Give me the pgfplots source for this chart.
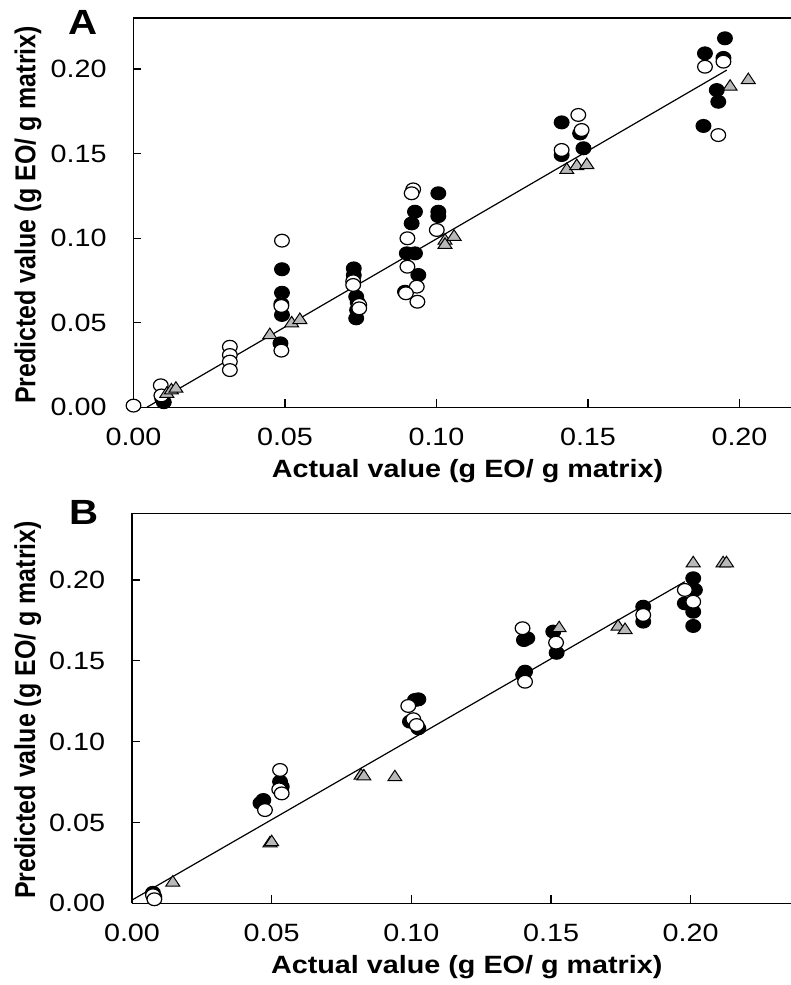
\documentclass[border=0pt]{standalone}
\usepackage{fontspec}
\setmainfont{Liberation Sans}[FakeStretch=1.15]
\newfontfamily\ylabfont{Liberation Sans}
\usepackage{pgfplots}
\pgfplotsset{compat=1.18}
\pgfplotsset{
 myaxis/.style={
  scale only axis, clip=false,
  axis lines*=left,
  axis line style={-, line width=0.8pt, black},
  tick align=inside,
  major tick length=4pt,
  tick style={black, line width=0.6pt},
  xtick={0,0.05,0.1,0.15,0.2}, ytick={0,0.05,0.1,0.15,0.2},
  scaled ticks=false,
  xticklabel={\pgfmathprintnumber[fixed,fixed zerofill,precision=2,assume math mode=true]{\tick}},
  yticklabel={\pgfmathprintnumber[fixed,fixed zerofill,precision=2,assume math mode=true]{\tick}},
  tick label style={font=\fontsize{12.5}{15}\selectfont, inner sep=0pt},
  xticklabel style={anchor=center, yshift=-15pt},
  yticklabel style={anchor=east, xshift=-13.25pt},
  xmin=0, ymin=0,
  xlabel={Actual value (g EO/ g matrix)},
  ylabel={\scalebox{1}[1.15]{\ylabfont\bfseries Predicted value (g EO/ g matrix)}},
  label style={font=\fontsize{12.5}{15}\selectfont\bfseries},
 },
 blk/.style={only marks, mark=*, mark size=3.2pt, mark options={fill=black, draw=black, line width=0.6pt, xscale=1.15}},
 opn/.style={only marks, mark=*, mark size=3.2pt, mark options={fill=white, draw=black, line width=0.6pt, xscale=1.15}},
 tri/.style={only marks, mark=triangle*, mark size=3.5pt, mark options={fill=gray!55, draw=black, line width=0.5pt, xscale=1.15}},
}
\begin{document}
\begin{tikzpicture}
% ---------------- Panel A ----------------
\begin{axis}[myaxis, at={(66.75pt,-203.65pt)}, anchor=south west,
  width=328.75pt, height=194.65pt, xmax=0.2170, ymax=0.2301,
  xlabel style={at={(axis description cs:0.508,-0.165)}, anchor=center},
  ylabel style={at={(axis description cs:-0.1605,0.494)}, anchor=center}]
\draw[line width=0.8pt] (rel axis cs:0,1) -- (rel axis cs:1,1);
\addplot[black, line width=0.6pt, mark=none] coordinates {(0.0044,0) (0.1958,0.1993)};
\addplot[blk] coordinates {
(0.0095,0.005) (0.010,0.003)
(0.049,0.0816) (0.049,0.0677) (0.0488,0.0611) (0.049,0.0546) (0.0485,0.0378)
(0.0727,0.0821) (0.0727,0.0780) (0.0735,0.0654) (0.074,0.0620) (0.0738,0.0575) (0.0735,0.0526)
(0.0929,0.1156) (0.0918,0.1087) (0.0902,0.0910) (0.0929,0.0910) (0.094,0.0782) (0.0896,0.0683)
(0.1006,0.1265) (0.1006,0.1156) (0.1006,0.1130)
(0.1413,0.1684) (0.1474,0.1619) (0.1485,0.1531) (0.1413,0.1491)
(0.1952,0.2181) (0.1886,0.2092) (0.1947,0.2065) (0.1925,0.1875) (0.193,0.1806) (0.1881,0.1663)
};
\addplot[opn] coordinates {
(0.0,0.001) (0.009,0.013) (0.0092,0.007)
(0.0318,0.0358) (0.0318,0.0309) (0.0318,0.027) (0.0318,0.022)
(0.049,0.0985) (0.0488,0.0599) (0.0488,0.0335)
(0.0725,0.0745) (0.0725,0.0723) (0.0745,0.0605) (0.0745,0.0585)
(0.0923,0.1288) (0.0918,0.1265) (0.0904,0.0999) (0.0904,0.0831) (0.0935,0.0713) (0.0899,0.0674) (0.0937,0.0624)
(0.1001,0.1048)
(0.1468,0.1728) (0.1479,0.1639) (0.1413,0.1521)
(0.1886,0.2013) (0.1947,0.2043) (0.193,0.1609)
};
\addplot[tri] coordinates {
(0.011,0.008) (0.0125,0.010) (0.014,0.011)
(0.045,0.0427) (0.0522,0.0496) (0.0549,0.0516)
(0.1028,0.0985) (0.1028,0.0960) (0.1058,0.1008)
(0.143,0.1403) (0.1463,0.1426) (0.1496,0.1432)
(0.1969,0.1895) (0.2029,0.1934)
};
\end{axis}
% ---------------- Panel B ----------------
\begin{axis}[myaxis, at={(66pt,-451.65pt)}, anchor=south west,
  width=329.5pt, height=195pt, xmax=0.2359, ymax=0.2413,
  xlabel style={at={(axis description cs:0.508,-0.163)}, anchor=center},
  ylabel style={at={(axis description cs:-0.158,0.496)}, anchor=center}]
\draw[line width=0.8pt] (rel axis cs:0,1) -- (rel axis cs:1,1);
\addplot[black, line width=0.6pt, mark=none] coordinates {(0,0.002) (0.1979,0.199)};
\addplot[blk] coordinates {
(0.0075,0.0065) (0.008,0.004)
(0.047,0.0639) (0.046,0.062) (0.053,0.0753) (0.0536,0.0722)
(0.1013,0.1258) (0.1025,0.1262) (0.0995,0.1124) (0.1025,0.1083)
(0.1403,0.1629) (0.1415,0.164) (0.1407,0.1433) (0.14,0.1413)
(0.1508,0.1681) (0.152,0.155)
(0.183,0.1835) (0.183,0.1743)
(0.2009,0.2011) (0.2015,0.1939) (0.1979,0.1856) (0.2009,0.1804) (0.2009,0.1716)
};
\addplot[opn] coordinates {
(0.0075,0.005) (0.008,0.0025)
(0.0476,0.0577) (0.053,0.0825) (0.0527,0.0705) (0.0536,0.068)
(0.0989,0.1221) (0.1007,0.1139) (0.1019,0.1103)
(0.1398,0.1702) (0.1407,0.1371)
(0.1518,0.1613)
(0.183,0.1784)
(0.1979,0.1939) (0.2009,0.1866)
};
\addplot[tri] coordinates {
(0.0146,0.0128) (0.0494,0.0371) (0.05,0.0378)
(0.082,0.079) (0.083,0.0785) (0.0941,0.078)
(0.1529,0.1702) (0.174,0.1712) (0.1765,0.1691)
(0.2009,0.2104) (0.2116,0.2104) (0.2128,0.2104)
};
\end{axis}
\node[font=\fontsize{17.5}{20}\selectfont\bfseries] at (41.5pt,-11.25pt) {A};
\node[font=\fontsize{17.5}{20}\selectfont\bfseries] at (42pt,-256.25pt) {B};
\pgfresetboundingbox
\path[use as bounding box] (0,0) rectangle (395.5pt,-492.5pt);
\end{tikzpicture}
\end{document}
